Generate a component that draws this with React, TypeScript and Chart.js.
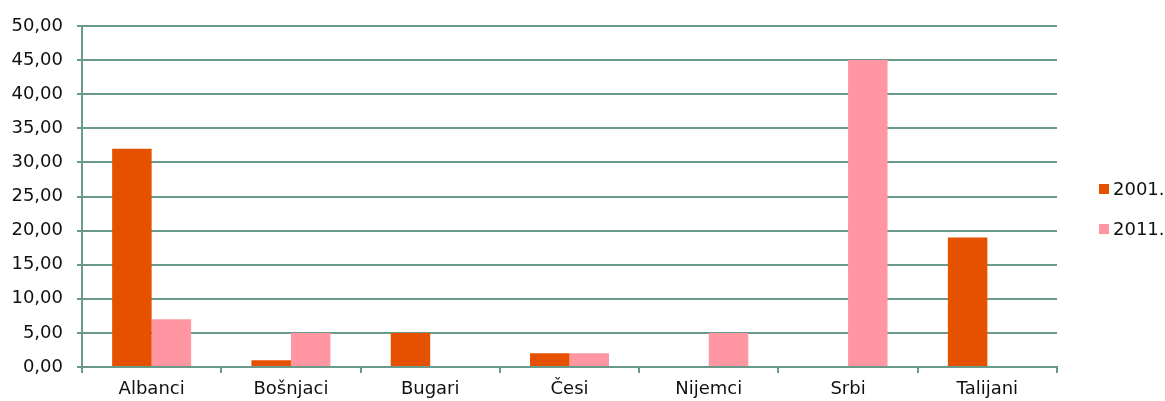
import React, { useEffect, useRef } from "react";
import { Chart, registerables } from "chart.js";

Chart.register(...registerables);

const categories = ["Albanci", "Bošnjaci", "Bugari", "Česi", "Nijemci", "Srbi", "Talijani"];
const values2001 = [32, 1, 5, 2, 0, 0, 19];
const values2011 = [7, 5, 0, 2, 5, 45, 0];
const seriesLabels = ["2001.", "2011."];
const yTicks = [0, 5, 10, 15, 20, 25, 30, 35, 40, 45, 50];

const ORANGE = "#E65100";
const PINK = "#FF96A2";
const GRID = "#6A9A8A";
const FONT = "DejaVu Sans";

export default function App() {
  const ref = useRef<HTMLCanvasElement | null>(null);
  useEffect(() => {
    if (!ref.current) return;
    const chart = new Chart(ref.current, {
      type: "bar",
      data: {
        labels: categories,
        datasets: [
          { label: seriesLabels[0], data: values2001, backgroundColor: ORANGE, borderWidth: 0 },
          { label: seriesLabels[1], data: values2011, backgroundColor: PINK, borderWidth: 0 },
        ],
      },
      options: {
        animation: false,
        responsive: false,
        maintainAspectRatio: false,
        layout: { padding: { top: 26, right: 108, left: 0, bottom: 0 } },
        datasets: { bar: { categoryPercentage: 0.567, barPercentage: 1 } },
        plugins: { legend: { display: false }, tooltip: { enabled: false } },
        scales: {
          x: {
            grid: {
              display: true,
              drawOnChartArea: false,
              drawTicks: true,
              tickLength: 6,
              color: GRID,
              lineWidth: 2,
              offset: true,
            },
            border: { color: GRID, width: 2 },
            ticks: { color: "#111", font: { family: FONT, size: 18 }, padding: 6, maxRotation: 0 },
            afterFit: (s: any) => { s.height = 34; },
          },
          y: {
            min: 0,
            max: 50,
            afterBuildTicks: (s: any) => { s.ticks = yTicks.map((v) => ({ value: v })); },
            grid: { color: GRID, lineWidth: 2, drawTicks: true, tickLength: 5 },
            border: { color: GRID, width: 2 },
            ticks: {
              color: "#111",
              font: { family: FONT, size: 18 },
              padding: 14,
              callback: (v: any) => Number(v).toFixed(2).replace(".", ","),
            },
            afterFit: (s: any) => { s.width = 82; },
          },
        },
      },
    });
    return () => chart.destroy();
  }, []);

  const legendItem = (color: string, text: string, top: number) => (
    <div style={{ position: "absolute", left: 1099, top, display: "flex", alignItems: "center", fontFamily: FONT, fontSize: 18, color: "#111" }}>
      <div style={{ width: 10, height: 10, background: color, marginRight: 4 }} />
      <span>{text}</span>
    </div>
  );

  return (
    <div style={{ position: "fixed", left: 0, top: 0, width: 1165, height: 401, background: "#fff" }}>
      <canvas ref={ref} width={1165} height={401} style={{ display: "block" }} />
      {legendItem(ORANGE, seriesLabels[0], 178)}
      {legendItem(PINK, seriesLabels[1], 218)}
    </div>
  );
}
